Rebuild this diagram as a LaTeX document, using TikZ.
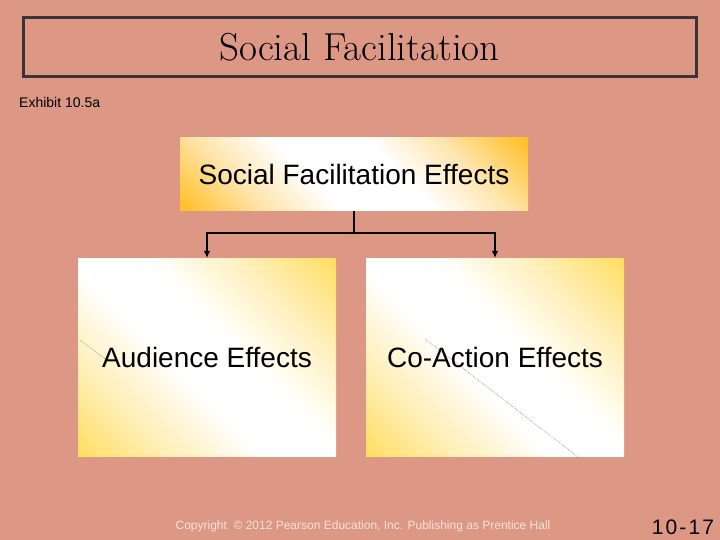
\documentclass[tikz,border=0pt]{standalone}
\usepackage{fontspec}
\newfontfamily\arialf{Liberation Sans}
\usetikzlibrary{arrows.meta}
\definecolor{bg}{RGB}{221,151,133}
\definecolor{frame}{RGB}{58,52,54}
\definecolor{yel}{RGB}{255,222,100}
\definecolor{lyel}{RGB}{255,240,190}
\definecolor{org}{RGB}{255,190,35}
\definecolor{lorg}{RGB}{255,228,170}
\definecolor{foot}{RGB}{246,228,222}
\pgfdeclareverticalshading{yelshade}{100bp}{color(0bp)=(yel); color(15bp)=(yel); color(30bp)=(lyel); color(44bp)=(white); color(56bp)=(white); color(70bp)=(lyel); color(85bp)=(yel); color(100bp)=(yel)}
\pgfdeclareverticalshading{orgshade}{100bp}{color(0bp)=(org); color(15bp)=(org); color(29bp)=(lorg); color(42bp)=(white); color(58bp)=(white); color(71bp)=(lorg); color(85bp)=(org); color(100bp)=(org)}
\tikzset{
  titlebox/.style={draw=frame, line width=3pt, minimum width=673pt, minimum height=59pt, inner sep=0pt, font=\fontsize{39}{42}\selectfont\addfontfeature{FakeBold=0.5}},
  topbox/.style={shading=orgshade, shading angle=-45, minimum width=348pt, minimum height=73pt, inner sep=0pt, font=\arialf\fontsize{28}{32}\selectfont},
  subbox/.style={shading=yelshade, shading angle=-45, minimum width=258pt, minimum height=198pt, inner sep=0pt},
  boxtext/.style={font=\arialf\fontsize{28}{32}\selectfont, inner sep=0pt},
  link/.style={line width=2pt, black},
  arr/.style={link, -{Latex[length=7pt,width=7pt]}},
  ghost/.style={gray, densely dotted, line width=0.6pt}
}
\begin{document}
\begin{tikzpicture}[x=1pt,y=-1pt]
\fill[bg] (0,0) rectangle (720,540);
\useasboundingbox (0,0) rectangle (720,540);
\node[titlebox] (title) at (359.5,47.5) {Social Facilitation};
\node[anchor=west, font=\arialf\fontsize{14}{16}\selectfont, inner sep=0pt] (exh) at (19,102) {Exhibit 10.5a};
\node[topbox] (top) at (354,174.5) {Social Facilitation Effects};
\node[subbox] (aud) at (207,357) {};
\node[subbox] (coa) at (495,357) {};
\draw[ghost] (80,340) -- (105,359);
\draw[ghost] (425,339) -- (578,457);
\node[boxtext] (audt) at (aud.center) {Audience Effects};
\node[boxtext] (coat) at (coa.center) {Co-Action Effects};
\coordinate (bar) at (0,233);
\draw[link] (top.south) -- (top.south |- bar);
\draw[arr] (top.south |- bar) -| (aud.north);
\draw[arr] (top.south |- bar) -| (coa.north);
\node[font=\arialf\fontsize{12}{14}\selectfont, text=foot, inner sep=0pt] (copy) at (363,526) {Copyright \ \textcopyright\ 2012 Pearson Education, Inc. Publishing as Prentice Hall};
\node[font=\arialf\fontsize{21}{23}\selectfont\addfontfeature{LetterSpace=10}, inner sep=0pt] (page) at (683,527) {10-17};
\end{tikzpicture}
\end{document}
